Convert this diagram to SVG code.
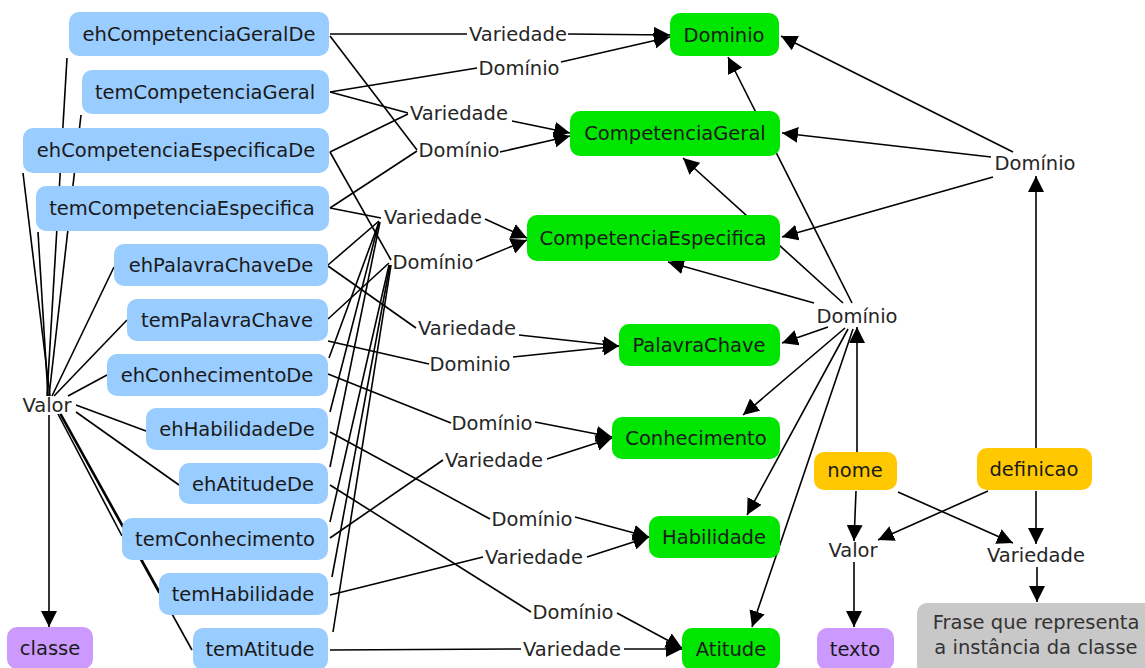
<svg xmlns="http://www.w3.org/2000/svg" width="1145" height="668" viewBox="0 0 1145 668">
  <defs>
    <marker id="arrow" markerUnits="userSpaceOnUse" markerWidth="16" markerHeight="16" viewBox="0 0 16 16" refX="16" refY="8" orient="auto">
      <path d="M0,0 L16,8 L0,16 z" fill="#000"/>
    </marker>
  </defs>
  <style>
    text { font-family: "DejaVu Sans", Verdana, sans-serif; font-size: 19.5px; text-anchor: middle; fill: #1a1a1a; }
    .link text { fill: #262626; }
    .conn line { stroke: #000; stroke-width: 1.6; fill: none; }
    .conn .a { marker-end: url(#arrow); }
    .prop rect { fill: #99ccff; }
    .cls rect { fill: #00e600; }
    .attr rect { fill: #ffc800; }
    .type rect { fill: #cc99ff; }
    .note rect { fill: #c8c8c8; }
    .note text { fill: #333; }
  </style>
  <rect width="1145" height="668" fill="#fff"/>

  <!-- connectors (drawn beneath the nodes) -->
  <g id="connectors" class="conn">
    <!-- properties to Valor, Valor to classe -->
    <line x1="67" y1="58" x2="47" y2="396"/>
    <line x1="81" y1="115" x2="49" y2="396"/>
    <line x1="23" y1="173" x2="50" y2="396"/>
    <line x1="38" y1="232" x2="48" y2="396"/>
    <line x1="114" y1="267" x2="52" y2="396"/>
    <line x1="127" y1="320" x2="54" y2="396"/>
    <line x1="107" y1="375" x2="68" y2="396"/>
    <line x1="146" y1="431" x2="76" y2="405"/>
    <line x1="179" y1="485" x2="76" y2="412"/>
    <line x1="122" y1="536" x2="58" y2="414"/>
    <line x1="159" y1="593" x2="60" y2="414"/>
    <line x1="192" y1="650" x2="61" y2="414"/>
    <line class="a" x1="49" y1="415" x2="49" y2="627"/>

    <!-- properties to linking phrases -->
    <line x1="330" y1="34" x2="467" y2="34"/>
    <line x1="330" y1="36" x2="417" y2="150"/>
    <line x1="330" y1="92" x2="477" y2="68"/>
    <line x1="330" y1="92" x2="408" y2="113"/>
    <line x1="330" y1="152" x2="408" y2="114"/>
    <line x1="330" y1="152" x2="391" y2="260"/>
    <line x1="330" y1="208" x2="417" y2="151"/>
    <line x1="330" y1="208" x2="381" y2="218"/>
    <line x1="328" y1="265" x2="379" y2="221"/>
    <line x1="328" y1="266" x2="416" y2="328"/>
    <line x1="328" y1="319" x2="389" y2="263"/>
    <line x1="328" y1="341" x2="429" y2="364"/>
    <line x1="329" y1="358" x2="379" y2="222"/>
    <line x1="328" y1="374" x2="451" y2="423"/>
    <line x1="330" y1="412" x2="379" y2="222"/>
    <line x1="330" y1="432" x2="490" y2="519"/>
    <line x1="330" y1="467" x2="380" y2="222"/>
    <line x1="330" y1="485" x2="531" y2="612"/>
    <line x1="330" y1="522" x2="389" y2="265"/>
    <line x1="330" y1="538" x2="443" y2="460"/>
    <line x1="332" y1="577" x2="390" y2="265"/>
    <line x1="330" y1="595" x2="483" y2="557"/>
    <line x1="333" y1="632" x2="391" y2="265"/>
    <line x1="330" y1="650" x2="521" y2="649"/>

    <!-- linking phrases to classes -->
    <line class="a" x1="568" y1="34" x2="670" y2="35"/>
    <line class="a" x1="561" y1="62" x2="670" y2="37"/>
    <line class="a" x1="512" y1="121" x2="570" y2="133"/>
    <line class="a" x1="500" y1="152" x2="570" y2="136"/>
    <line class="a" x1="485" y1="219" x2="527" y2="238"/>
    <line class="a" x1="476" y1="261" x2="527" y2="240"/>
    <line class="a" x1="519" y1="335" x2="619" y2="346"/>
    <line class="a" x1="513" y1="357" x2="619" y2="346"/>
    <line class="a" x1="535" y1="422" x2="612" y2="437"/>
    <line class="a" x1="547" y1="459" x2="612" y2="438"/>
    <line class="a" x1="575" y1="517" x2="649" y2="537"/>
    <line class="a" x1="587" y1="557" x2="649" y2="537"/>
    <line class="a" x1="617" y1="613" x2="682" y2="648"/>
    <line class="a" x1="624" y1="649" x2="682" y2="649"/>

    <!-- definicao domain -->
    <line class="a" x1="1013" y1="152" x2="781" y2="36"/>
    <line class="a" x1="991" y1="157" x2="782" y2="133"/>
    <line class="a" x1="993" y1="177" x2="782" y2="237"/>
    <line class="a" x1="1036" y1="448" x2="1036" y2="176"/>

    <!-- nome domain -->
    <line class="a" x1="852" y1="303" x2="728" y2="57"/>
    <line class="a" x1="843" y1="303" x2="683" y2="158"/>
    <line class="a" x1="814" y1="303" x2="668" y2="262"/>
    <line class="a" x1="828" y1="327" x2="782" y2="343"/>
    <line class="a" x1="845" y1="328" x2="743" y2="415"/>
    <line class="a" x1="848" y1="329" x2="747" y2="515"/>
    <line class="a" x1="853" y1="329" x2="752" y2="627"/>
    <line class="a" x1="857" y1="452" x2="857" y2="327"/>

    <!-- nome / definicao ranges -->
    <line class="a" x1="856" y1="491" x2="854" y2="541"/>
    <line class="a" x1="988" y1="491" x2="878" y2="540"/>
    <line class="a" x1="898" y1="492" x2="1013" y2="543"/>
    <line class="a" x1="1036" y1="491" x2="1036" y2="544"/>
    <line class="a" x1="854" y1="562" x2="854" y2="627"/>
    <line class="a" x1="1037" y1="567" x2="1037" y2="602"/>
  </g>

  <!-- property nodes -->
  <g id="n-ehCompetenciaGeralDe" class="prop"><rect x="69" y="12" width="260" height="44" rx="10"/><text x="199" y="41">ehCompetenciaGeralDe</text></g>
  <g id="n-temCompetenciaGeral" class="prop"><rect x="82" y="70" width="247" height="44" rx="10"/><text x="205" y="99">temCompetenciaGeral</text></g>
  <g id="n-ehCompetenciaEspecificaDe" class="prop"><rect x="23" y="128" width="306" height="45" rx="10"/><text x="176" y="157">ehCompetenciaEspecificaDe</text></g>
  <g id="n-temCompetenciaEspecifica" class="prop"><rect x="36" y="186" width="293" height="45" rx="10"/><text x="182" y="215">temCompetenciaEspecifica</text></g>
  <g id="n-ehPalavraChaveDe" class="prop"><rect x="114" y="244" width="214" height="42" rx="10"/><text x="221" y="272">ehPalavraChaveDe</text></g>
  <g id="n-temPalavraChave" class="prop"><rect x="127" y="299" width="201" height="42" rx="10"/><text x="227" y="327">temPalavraChave</text></g>
  <g id="n-ehConhecimentoDe" class="prop"><rect x="107" y="354" width="221" height="42" rx="10"/><text x="217" y="382">ehConhecimentoDe</text></g>
  <g id="n-ehHabilidadeDe" class="prop"><rect x="146" y="408" width="182" height="42" rx="10"/><text x="237" y="436">ehHabilidadeDe</text></g>
  <g id="n-ehAtitudeDe" class="prop"><rect x="179" y="463" width="149" height="41" rx="10"/><text x="253" y="491">ehAtitudeDe</text></g>
  <g id="n-temConhecimento" class="prop"><rect x="122" y="518" width="206" height="42" rx="10"/><text x="225" y="546">temConhecimento</text></g>
  <g id="n-temHabilidade" class="prop"><rect x="159" y="573" width="169" height="42" rx="10"/><text x="243" y="601">temHabilidade</text></g>
  <g id="n-temAtitude" class="prop"><rect x="193" y="628" width="135" height="42" rx="10"/><text x="260" y="656">temAtitude</text></g>

  <!-- class nodes -->
  <g id="n-Dominio" class="cls"><rect x="670" y="13" width="109" height="43" rx="10"/><text x="724" y="42">Dominio</text></g>
  <g id="n-CompetenciaGeral" class="cls"><rect x="570" y="111" width="210" height="45" rx="10"/><text x="675" y="140">CompetenciaGeral</text></g>
  <g id="n-CompetenciaEspecifica" class="cls"><rect x="527" y="215" width="253" height="46" rx="10"/><text x="653" y="245">CompetenciaEspecifica</text></g>
  <g id="n-PalavraChave" class="cls"><rect x="619" y="324" width="161" height="42" rx="10"/><text x="699" y="352">PalavraChave</text></g>
  <g id="n-Conhecimento" class="cls"><rect x="612" y="417" width="168" height="42" rx="10"/><text x="696" y="445">Conhecimento</text></g>
  <g id="n-Habilidade" class="cls"><rect x="649" y="516" width="131" height="42" rx="10"/><text x="714" y="544">Habilidade</text></g>
  <g id="n-Atitude" class="cls"><rect x="682" y="628" width="98" height="42" rx="10"/><text x="731" y="656">Atitude</text></g>

  <!-- datatype / annotation nodes -->
  <g id="n-classe" class="type"><rect x="7" y="627" width="86" height="42" rx="10"/><text x="50" y="655">classe</text></g>
  <g id="n-texto" class="type"><rect x="817" y="628" width="77" height="42" rx="10"/><text x="855" y="656">texto</text></g>
  <g id="n-nome" class="attr"><rect x="814" y="452" width="83" height="38" rx="10"/><text x="855" y="477">nome</text></g>
  <g id="n-definicao" class="attr"><rect x="977" y="448" width="115" height="42" rx="10"/><text x="1034" y="476">definicao</text></g>
  <g id="n-frase" class="note"><rect x="917" y="603" width="240" height="72" rx="10"/><text x="1036" y="629">Frase que representa</text><text x="1036" y="654">a instância da classe</text></g>

  <!-- linking phrases -->
  <g class="link">
    <g id="l-valor-classe"><text x="47" y="412">Valor</text></g>
    <g id="l-var-dominio"><text x="518" y="41">Variedade</text></g>
    <g id="l-dom-dominio"><text x="519" y="75">Domínio</text></g>
    <g id="l-var-cg"><text x="459" y="120">Variedade</text></g>
    <g id="l-dom-cg"><text x="459" y="157">Domínio</text></g>
    <g id="l-var-ce"><text x="433" y="224">Variedade</text></g>
    <g id="l-dom-ce"><text x="433" y="269">Domínio</text></g>
    <g id="l-var-pc"><text x="467" y="335">Variedade</text></g>
    <g id="l-dom-pc"><text x="470" y="371">Dominio</text></g>
    <g id="l-dom-con"><text x="492" y="430">Domínio</text></g>
    <g id="l-var-con"><text x="494" y="467">Variedade</text></g>
    <g id="l-dom-hab"><text x="532" y="526">Domínio</text></g>
    <g id="l-var-hab"><text x="534" y="564">Variedade</text></g>
    <g id="l-dom-ati"><text x="573" y="619">Domínio</text></g>
    <g id="l-var-ati"><text x="572" y="656">Variedade</text></g>
    <g id="l-dom-definicao"><text x="1035" y="170">Domínio</text></g>
    <g id="l-dom-nome"><text x="857" y="323">Domínio</text></g>
    <g id="l-valor-texto"><text x="853" y="557">Valor</text></g>
    <g id="l-var-frase"><text x="1036" y="562">Variedade</text></g>
  </g>
</svg>
